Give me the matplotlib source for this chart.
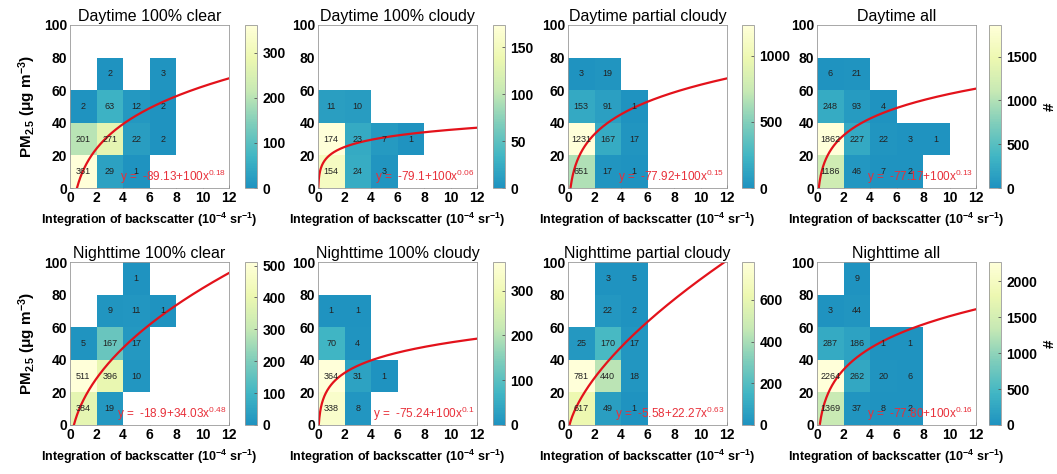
import numpy as np
import matplotlib.pyplot as plt
from matplotlib.colors import ListedColormap

plt.rcParams['font.family'] = ['Liberation Sans', 'DejaVu Sans']
plt.rcParams['mathtext.default'] = 'regular'

# bin edges: backscatter integral (x) and PM2.5 (y)
x_edges = [0, 2, 4, 6, 8, 10, 12]
y_edges = [0, 20, 40, 60, 80, 100]

titles = ['Daytime 100% clear', 'Daytime 100% cloudy', 'Daytime partial cloudy', 'Daytime all',
          'Nighttime 100% clear', 'Nighttime 100% cloudy', 'Nighttime partial cloudy', 'Nighttime all']

# counts per bin, rows = PM2.5 bins from bottom (0-20) to top (80-100), cols = x bins 0-2 ... 10-12
day_clear = [[361, 29, 1, 0, 0, 0],
             [201, 271, 22, 2, 0, 0],
             [2, 63, 12, 2, 0, 0],
             [0, 2, 0, 3, 0, 0],
             [0, 0, 0, 0, 0, 0]]
day_cloudy = [[154, 24, 3, 0, 0, 0],
              [174, 23, 7, 1, 0, 0],
              [11, 10, 0, 0, 0, 0],
              [0, 0, 0, 0, 0, 0],
              [0, 0, 0, 0, 0, 0]]
day_partial = [[651, 17, 1, 0, 0, 0],
               [1231, 167, 17, 0, 0, 0],
               [153, 91, 1, 0, 0, 0],
               [3, 19, 0, 0, 0, 0],
               [0, 0, 0, 0, 0, 0]]
day_all = [[1186, 46, 7, 2, 0, 0],
           [1862, 227, 22, 3, 1, 0],
           [248, 93, 4, 0, 0, 0],
           [6, 21, 0, 0, 0, 0],
           [0, 0, 0, 0, 0, 0]]
night_clear = [[384, 19, 0, 0, 0, 0],
               [511, 396, 10, 0, 0, 0],
               [5, 167, 17, 0, 0, 0],
               [0, 9, 11, 1, 0, 0],
               [0, 0, 1, 0, 0, 0]]
night_cloudy = [[338, 8, 0, 0, 0, 0],
                [364, 31, 1, 0, 0, 0],
                [70, 4, 0, 0, 0, 0],
                [1, 1, 0, 0, 0, 0],
                [0, 0, 0, 0, 0, 0]]
night_partial = [[617, 49, 1, 0, 0, 0],
                 [781, 440, 18, 0, 0, 0],
                 [25, 170, 17, 0, 0, 0],
                 [0, 22, 2, 0, 0, 0],
                 [0, 3, 5, 0, 0, 0]]
night_all = [[1369, 37, 8, 2, 0, 0],
             [2264, 262, 20, 6, 0, 0],
             [287, 186, 1, 1, 0, 0],
             [3, 44, 0, 0, 0, 0],
             [0, 9, 0, 0, 0, 0]]
counts = [day_clear, day_cloudy, day_partial, day_all,
          night_clear, night_cloudy, night_partial, night_all]

# power-law fits y = a + b * x^c
fit_a = [-89.13, -79.1, -77.92, -77.17, -18.9, -75.24, -5.58, -77.80]
fit_b = [100, 100, 100, 100, 34.03, 100, 22.27, 100]
fit_c = [0.18, 0.06, 0.15, 0.13, 0.48, 0.1, 0.63, 0.16]
fit_a_txt = ['-89.13', '-79.1', '-77.92', '-77.17', '-18.9', '-75.24', '-5.58', '-77.80']
fit_b_txt = ['100', '100', '100', '100', '34.03', '100', '22.27', '100']
fit_c_txt = ['0.18', '0.06', '0.15', '0.13', '0.48', '0.1', '0.63', '0.16']

cbar_steps = [100, 50, 500, 500, 100, 100, 200, 500]

base = plt.get_cmap('YlGnBu')
cmap = ListedColormap(base(np.linspace(0.62, 0.0, 256)))
cmap.set_bad('white')

W, H = 1057, 474
fig = plt.figure(figsize=(W / 100, H / 100), dpi=100)

col_left = [70, 318, 568, 817]
cbar_left = [245, 493, 742, 989]
row_top = [25, 262]
ax_w, ax_h, cb_w = 159, 163, 12

for k in range(8):
    r, c = divmod(k, 4)
    ax = fig.add_axes([col_left[c] / W, 1 - (row_top[r] + ax_h) / H, ax_w / W, ax_h / H])
    cax = fig.add_axes([cbar_left[c] / W, 1 - (row_top[r] + ax_h) / H, cb_w / W, ax_h / H])

    z = np.array(counts[k], dtype=float)
    zm = np.ma.masked_where(z == 0, z)
    ax.set_axisbelow(True)
    ax.grid(True, color='#dddddd', lw=0.6)
    mesh = ax.pcolormesh(x_edges, y_edges, zm, cmap=cmap, vmin=0, vmax=z.max())

    xc = 0.5 * (np.array(x_edges[:-1]) + np.array(x_edges[1:]))
    yc = 0.5 * (np.array(y_edges[:-1]) + np.array(y_edges[1:]))
    for i in range(len(yc)):
        for j in range(len(xc)):
            if z[i, j] > 0:
                ax.text(xc[j], yc[i], f'{int(z[i, j])}', ha='center', va='center',
                        fontsize=6.5, color='#222222')

    # fitted curve
    x = np.linspace(0.001, 12, 600)
    y = fit_a[k] + fit_b[k] * x ** fit_c[k]
    y = np.where(y < 0, np.nan, y)
    ax.plot(x, y, color='#e3121b', lw=1.6, clip_on=True)
    ax.text(11.8, 1.5, f'y =  {fit_a_txt[k]}+{fit_b_txt[k]}x$^{{{fit_c_txt[k]}}}$',
            ha='right', va='bottom', fontsize=8.5, color='#e8303a')

    ax.set_xlim(0, 12)
    ax.set_ylim(0, 100)
    ax.set_xticks(range(0, 13, 2))
    ax.set_yticks(range(0, 101, 20))
    ax.tick_params(direction='in', length=2.5, width=0.6, color='#555555', pad=2, labelsize=10)
    for lab in ax.get_xticklabels() + ax.get_yticklabels():
        lab.set_fontweight('bold')
    for sp in ax.spines.values():
        sp.set_color('#999999')
        sp.set_linewidth(0.6)
    ax.set_title(titles[k], fontsize=11.5, pad=3)
    ax.set_xlabel('Integration of backscatter (10$^{-4}$ sr$^{-1}$)', fontsize=9,
                  fontweight='bold', labelpad=4)
    if c == 0:
        ax.set_ylabel('PM$_{2.5}$ (μg m$^{-3}$)', fontsize=11, fontweight='bold', labelpad=4)

    cb = fig.colorbar(mesh, cax=cax)
    cb.set_ticks(np.arange(0, z.max() + 1, cbar_steps[k]))
    cb.outline.set_edgecolor('#999999')
    cb.outline.set_linewidth(0.6)
    cax.tick_params(direction='in', length=2.5, width=0.6, color='#555555', pad=4, labelsize=10)
    for lab in cax.get_yticklabels():
        lab.set_fontweight('bold')
    if c == 3:
        cb.set_label('#', fontsize=11, fontweight='bold', labelpad=4)

fig.savefig('out.png', dpi=100)
